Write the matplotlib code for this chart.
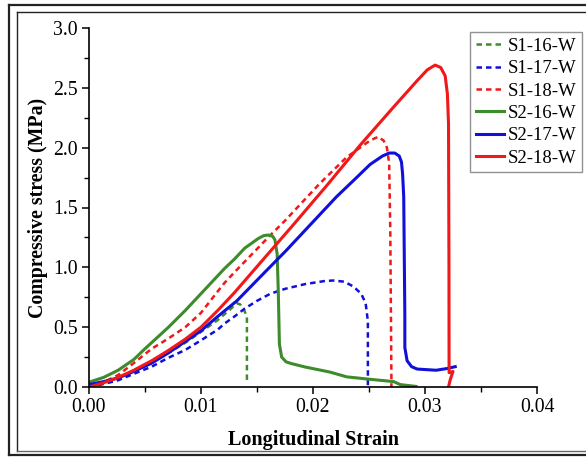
import matplotlib
matplotlib.use("Agg")
import matplotlib.pyplot as plt
from matplotlib.lines import Line2D
from matplotlib.ticker import MultipleLocator

plt.rcParams['font.family'] = ['Liberation Serif', 'DejaVu Serif']

# ---- data ----
s1_16_x = [0.0, 0.0026, 0.0056, 0.0086, 0.0100, 0.0115, 0.0125, 0.0132, 0.0135, 0.0138, 0.0141, 0.0141]
s1_16_y = [0.0, 0.07, 0.20, 0.37, 0.46, 0.56, 0.64, 0.70, 0.69, 0.655, 0.585, 0.03]

s1_17_x = [0.0, 0.0013, 0.0026, 0.0040, 0.0056, 0.0070, 0.0086, 0.0100, 0.0115, 0.0121, 0.0130,
           0.0139, 0.0150, 0.0162, 0.0175, 0.0193, 0.0210, 0.0218, 0.0228, 0.0236, 0.0243,
           0.0247, 0.0249, 0.0249]
s1_17_y = [0.0, 0.025, 0.056, 0.11, 0.17, 0.24, 0.31, 0.39, 0.48, 0.53, 0.59,
           0.655, 0.72, 0.78, 0.82, 0.86, 0.885, 0.89, 0.88, 0.84, 0.78,
           0.70, 0.55, 0.0]

s1_18_x = [0.0, 0.0013, 0.0026, 0.0040, 0.0056, 0.0070, 0.0086, 0.0100, 0.0115, 0.0121, 0.0130,
           0.0161, 0.0175, 0.0206, 0.0230, 0.0242, 0.0251, 0.0258, 0.0263, 0.0266, 0.0268,
           0.0269, 0.0270, 0.0270]
s1_18_y = [0.0, 0.04, 0.10, 0.20, 0.32, 0.40, 0.50, 0.62, 0.80, 0.87, 0.96,
           1.26, 1.39, 1.70, 1.92, 2.00, 2.06, 2.09, 2.06, 2.00, 1.87,
           1.31, 0.08, 0.0]

s2_16_x = [0.0, 0.0013, 0.0026, 0.0040, 0.0050, 0.0071, 0.0086, 0.0100, 0.0115, 0.0121, 0.0130,
           0.0139, 0.0151, 0.0156, 0.0160, 0.0164, 0.0166, 0.0168, 0.0169, 0.0170, 0.0172,
           0.0176, 0.0181, 0.0193, 0.0215, 0.0230, 0.0245, 0.0260, 0.0272, 0.0278, 0.0292]
s2_16_y = [0.04, 0.08, 0.14, 0.23, 0.32, 0.50, 0.64, 0.78, 0.93, 0.99, 1.07,
           1.16, 1.24, 1.265, 1.27, 1.26, 1.23, 1.11, 0.80, 0.36, 0.25,
           0.21, 0.195, 0.167, 0.125, 0.085, 0.07, 0.056, 0.045, 0.02, 0.005]

s2_17_x = [0.0, 0.0013, 0.0026, 0.0040, 0.0056, 0.0070, 0.0086, 0.0100, 0.0115, 0.0132, 0.0155,
           0.0176, 0.0199, 0.0221, 0.0240, 0.0251, 0.0262, 0.0268, 0.0273, 0.0277, 0.0279,
           0.0280, 0.0281, 0.0282, 0.0282, 0.0284, 0.0288, 0.0293, 0.0310, 0.0320, 0.0327]
s2_17_y = [0.02, 0.045, 0.075, 0.13, 0.20, 0.28, 0.38, 0.47, 0.59, 0.72, 0.94,
           1.14, 1.37, 1.59, 1.76, 1.86, 1.93, 1.955, 1.955, 1.93, 1.88,
           1.78, 1.59, 0.60, 0.33, 0.22, 0.17, 0.15, 0.14, 0.155, 0.17]

s2_18_x = [0.0, 0.0013, 0.0026, 0.0040, 0.0056, 0.0070, 0.0086, 0.0100, 0.0115, 0.0121, 0.0130,
           0.0155, 0.0181, 0.0212, 0.0242, 0.0272, 0.0293, 0.0302, 0.0309, 0.0314, 0.0318,
           0.0320, 0.0321, 0.03214, 0.03215, 0.0325, 0.03225, 0.0321]
s2_18_y = [0.0, 0.035, 0.08, 0.14, 0.22, 0.30, 0.40, 0.50, 0.64, 0.70, 0.79,
           1.06, 1.34, 1.68, 2.02, 2.34, 2.56, 2.65, 2.69, 2.67, 2.60,
           2.45, 2.20, 1.00, 0.12, 0.13, 0.06, 0.0]

labels = ['S1-16-W', 'S1-17-W', 'S1-18-W', 'S2-16-W', 'S2-17-W', 'S2-18-W']
green, blue, red = '#3d8c2b', '#1010d8', '#f01818'

xticks = [0.00, 0.01, 0.02, 0.03, 0.04]
yticks = [0.0, 0.5, 1.0, 1.5, 2.0, 2.5, 3.0]

fig = plt.figure(figsize=(5.86, 4.57), dpi=100)
W, H = 586, 457
ax = fig.add_axes([89 / W, 1 - 387 / H, (537 - 89) / W, (387 - 28) / H])

dash = (0, (2.2, 1.6))
series = [
    (s1_16_x, s1_16_y, green, dash, 1.8),
    (s1_17_x, s1_17_y, blue, dash, 1.8),
    (s1_18_x, s1_18_y, red, dash, 1.8),
    (s2_16_x, s2_16_y, green, '-', 2.2),
    (s2_17_x, s2_17_y, blue, '-', 2.2),
    (s2_18_x, s2_18_y, red, '-', 2.2),
]
for (x, y, c, ls, lw), lab in zip(series, labels):
    ax.plot(x, y, color=c, linestyle=ls, linewidth=lw, label=lab,
            solid_joinstyle='round', dash_joinstyle='round')

ax.set_xlim(0, 0.04)
ax.set_ylim(0, 3.0)
ax.set_xticks(xticks)
ax.set_xticklabels([f'{v:.2f}' for v in xticks])
ax.set_yticks(yticks)
ax.set_yticklabels([f'{v:.1f}' for v in yticks])
ax.xaxis.set_minor_locator(MultipleLocator(0.005))
ax.yaxis.set_minor_locator(MultipleLocator(0.25))
ax.tick_params(which='major', direction='out', length=5, width=1.1, labelsize=14.2, pad=3)
ax.tick_params(which='minor', direction='out', length=3.5, width=1.0)
for s in ['top', 'right']:
    ax.spines[s].set_visible(False)
for s in ['left', 'bottom']:
    ax.spines[s].set_linewidth(1.2)

ax.set_xlabel('Longitudinal Strain', fontsize=14.5, fontweight='bold', labelpad=9)
ax.set_ylabel('Compressive stress (MPa)', fontsize=14.3, fontweight='bold', labelpad=4)

leg = ax.legend(loc='upper right', bbox_to_anchor=(582 / W, 1 - 32 / H),
                bbox_transform=fig.transFigure, fontsize=13.5, frameon=True,
                fancybox=False, edgecolor='#777777', handlelength=1.5,
                handletextpad=0.2, labelspacing=0.28, borderpad=0.3, borderaxespad=0)
leg.get_frame().set_linewidth(1.0)

# double border frame (right side cut off in the reference)
def fl(x0, y0, x1, y1, lw, color='#222222'):
    fig.add_artist(Line2D([x0 / W, x1 / W], [1 - y0 / H, 1 - y1 / H],
                          transform=fig.transFigure, color=color, linewidth=lw))

fl(9, 5, 600, 5, 1.6)
fl(9, 5, 9, 455, 1.6)
fl(9, 455, 600, 455, 1.6)
fl(17, 12, 600, 12, 1.0)
fl(17, 12, 17, 451, 1.0)
fl(17, 451, 600, 451, 1.0, '#666666')

fig.savefig('out.png', dpi=100)
